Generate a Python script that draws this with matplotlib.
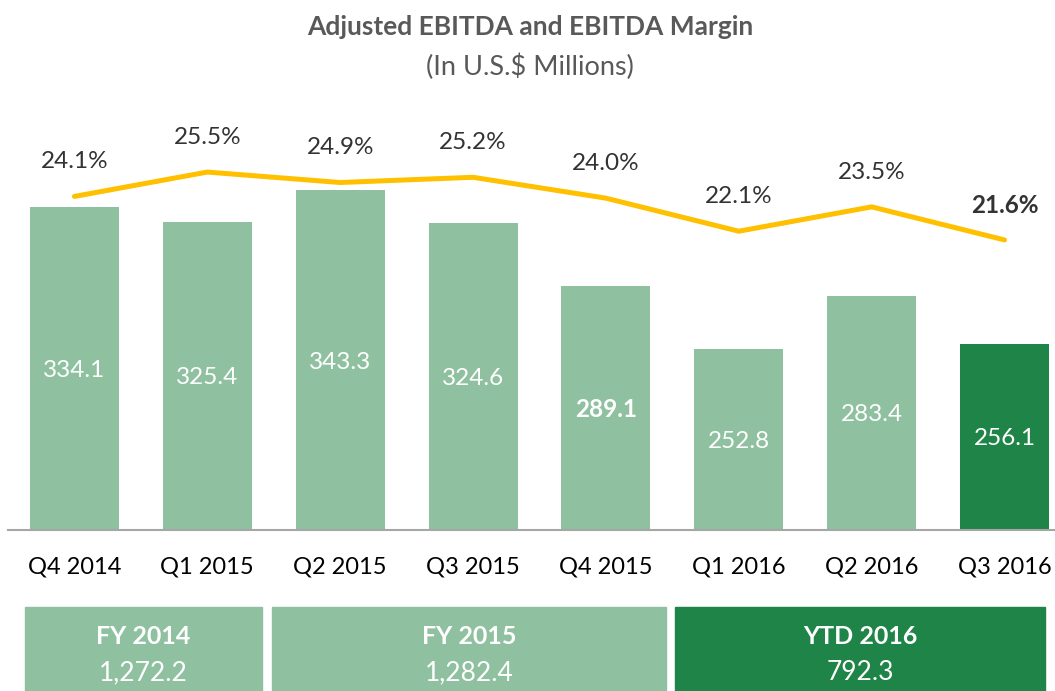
import matplotlib.pyplot as plt
from matplotlib.patches import Rectangle

plt.rcParams['font.family'] = ['Lato', 'DejaVu Sans']

quarters = ['Q4 2014', 'Q1 2015', 'Q2 2015', 'Q3 2015', 'Q4 2015', 'Q1 2016', 'Q2 2016', 'Q3 2016']
ebitda = [334.1, 325.4, 343.3, 324.6, 289.1, 252.8, 283.4, 256.1]
margin = [24.1, 25.5, 24.9, 25.2, 24.0, 22.1, 23.5, 21.6]
bold_bar = [False, False, False, False, True, False, False, False]
bold_margin = [False, False, False, False, False, False, False, True]

period_names = ['FY 2014', 'FY 2015', 'YTD 2016']
period_totals = ['1,272.2', '1,282.4', '792.3']

light = '#8FC1A1'
dark = '#1F8447'
gold = '#FFC000'

W, H = 1055, 691
fig = plt.figure(figsize=(W / 100, H / 100), dpi=100)

# axes box in pixels (from top-left)
left, right, top, bottom = 8, 1055, 99.5, 530
ax = fig.add_axes([left / W, 1 - bottom / H, (right - left) / W, (bottom - top) / H])
x = list(range(len(quarters)))
colors = [dark if i == len(quarters) - 1 else light for i in x]
bars = ax.bar(x, ebitda, width=0.67, bottom=0, color=colors, zorder=2)
ax.set_xlim(-0.5, 7.38)
ax.set_ylim(150, 395)
for i, b in enumerate(bars):
    ax.text(b.get_x() + b.get_width() / 2, (150 + ebitda[i]) / 2, f'{ebitda[i]:.1f}',
            ha='center', va='center_baseline', color='white', fontsize=17.5,
            fontweight='bold' if bold_bar[i] else 'normal', zorder=3)

for s in ['top', 'right', 'left']:
    ax.spines[s].set_visible(False)
ax.spines['bottom'].set_color('#A6A6A6')
ax.spines['bottom'].set_linewidth(1.5)
ax.set_yticks([])
ax.set_xticks(x)
ax.set_xticklabels(quarters, fontsize=17, color='black')
ax.tick_params(axis='x', length=0, pad=19)

ax2 = ax.twinx()
ax2.plot(x, margin, color=gold, lw=3.6, solid_capstyle='round', solid_joinstyle='round', zorder=4)
ax2.set_ylim(4.93, 29.67)
ax2.set_yticks([])
for s in ['top', 'right', 'left', 'bottom']:
    ax2.spines[s].set_visible(False)
for i, m in enumerate(margin):
    ax2.annotate(f'{m:.1f}%', (i, m), xytext=(0, 25), textcoords='offset points',
                 ha='center', va='center', fontsize=17.5, color='#333333',
                 fontweight='bold' if bold_margin[i] else 'normal')

fig.text(530 / W, 1 - 27 / H, 'Adjusted EBITDA and EBITDA Margin', ha='center', va='center',
         fontsize=19, fontweight='bold', color='#595959')
fig.text(530 / W, 1 - 67 / H, '(In U.S.$ Millions)', ha='center', va='center',
         fontsize=19.5, color='#595959')

# summary boxes below the chart
box_px = [(25, 262), (272, 666), (675, 1045)]
box_colors = [light, light, dark]
for (x0, x1), c, name, tot in zip(box_px, box_colors, period_names, period_totals):
    fig.patches.append(Rectangle((x0 / W, 0), (x1 - x0) / W, (H - 607) / H,
                                 transform=fig.transFigure, color=c, zorder=0))
    cx = (x0 + x1) / 2 / W
    fig.text(cx, 1 - 636 / H, name, ha='center', va='center', fontsize=18,
             fontweight='bold', color='white')
    fig.text(cx, 1 - 673 / H, tot, ha='center', va='center', fontsize=19, color='white')

fig.savefig('out.png', dpi=100)
